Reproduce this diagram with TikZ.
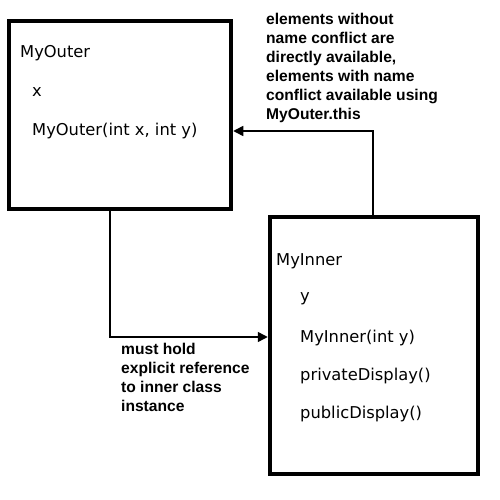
\documentclass[tikz,border=0pt]{standalone}
\usepackage{fontspec}
\setmainfont{DejaVu Sans}
\newfontfamily\notefont{Liberation Sans}
\usetikzlibrary{arrows.meta,positioning}

\begin{document}
\begin{tikzpicture}[
    x=1pt, y=-1pt,
    cls/.style={rectangle, draw=black, line width=4.5pt, fill=white, inner sep=0pt},
    mem/.style={anchor=west, inner sep=0pt, font=\fontsize{16.3}{18}\selectfont},
    note/.style={anchor=north west, inner sep=0pt, align=left, font=\notefont\bfseries\fontsize{15.6}{19}\selectfont},
    arr/.style={-{Triangle[length=10pt, width=10pt]}, line width=1.5pt, draw=black}
]
    \useasboundingbox (0,0) rectangle (500,500);
    \fill [white] (0,0) rectangle (500,500);

    \node [cls, minimum width=222pt, minimum height=188pt] (outer) at (120,115) {};
    \node [cls, minimum width=208pt, minimum height=257pt] (inner) at (374,345.5) {};

    \node [mem] (oname) at (20,53) {MyOuter};
    \node [mem] (ox) at (32,92) {x};
    \node [mem] (octor) at (32,131) {MyOuter(int x, int y)};

    \node [mem] (iname) at (276,261) {MyInner};
    \node [mem] (iy) at (300,299) {y};
    \node [mem] (ictor) at (300,338) {MyInner(int y)};
    \node [mem] (ipriv) at (300,376) {privateDisplay()};
    \node [mem] (ipub) at (300,414) {publicDisplay()};

    \node [note] (n1) at (266,13) {elements without\\name conflict are\\directly available,\\elements with name\\conflict available using\\MyOuter.this};
    \node [note] (n2) at (121,343) {must hold\\explicit reference\\to inner class\\instance};

    \draw [arr] (outer.south -| 110,0) |- (inner.west |- 0,337);
    \draw [arr] (inner.north -| 373,0) |- (outer.east |- 0,131);
\end{tikzpicture}
\end{document}
